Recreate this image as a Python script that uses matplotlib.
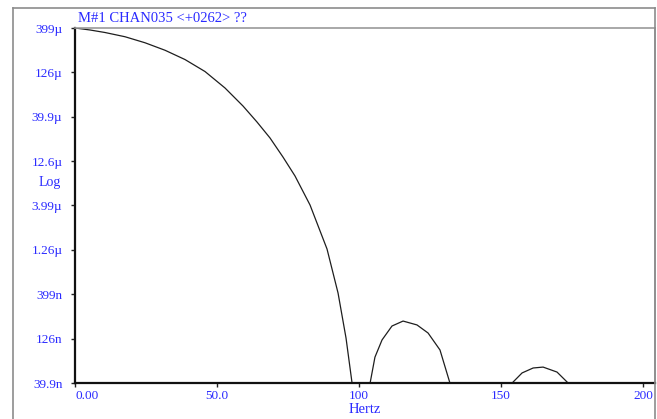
import numpy as np
import matplotlib
matplotlib.use("Agg")
import matplotlib.pyplot as plt
from matplotlib.lines import Line2D

# spectrum (Hz, amplitude)
main_freq = [0.0, 5.28, 10.56, 17.61, 24.65, 31.69, 38.73, 45.77, 52.82, 59.15, 64.08,
             68.66, 73.24, 77.46, 82.75, 88.73, 92.61, 95.42, 97.54]
main_amp = [399e-6, 379e-6, 355e-6, 318e-6, 272e-6, 224e-6, 176e-6, 129e-6, 84.1e-6,
            52.7e-6, 34.8e-6, 23.0e-6, 14.0e-6, 8.58e-6, 4.04e-6, 1.29e-6, 412e-9,
            128e-9, 39.9e-9]

lobe2_freq = [103.9, 105.6, 108.1, 111.6, 115.5, 120.4, 124.3, 128.5, 132.0]
lobe2_amp = [39.9e-9, 78e-9, 122e-9, 175e-9, 199e-9, 180e-9, 146e-9, 94e-9, 39.9e-9]

lobe3_freq = [153.9, 157.4, 161.3, 164.8, 169.7, 173.6, 204.2]
lobe3_amp = [39.9e-9, 51.8e-9, 58.9e-9, 60.3e-9, 53e-9, 39.9e-9, 39.9e-9]

ytick_vals = [39.9e-9, 126e-9, 399e-9, 1.26e-6, 3.99e-6, 12.6e-6, 39.9e-6, 126e-6, 399e-6]
ytick_labels = ["39.9n", "126n", "399n", "1.26\u00b5", "3.99\u00b5", "12.6\u00b5", "39.9\u00b5", "126\u00b5", "399\u00b5"]
xtick_vals = [0, 50, 100, 150, 200]
xtick_labels = ["0.00", "50.0", "100", "150", "200"]

W, H = 657, 419
blue = "#2a2aff"
font = "Liberation Serif"

fig = plt.figure(figsize=(W / 100, H / 100), dpi=100)
ax = fig.add_axes([75 / W, 1 - 383 / H, (655 - 75) / W, (383 - 28) / H])

freq = main_freq + lobe2_freq + lobe3_freq
amp = main_amp + lobe2_amp + lobe3_amp
ax.plot(freq, amp, color="#1e1e1e", lw=0.9)

ax.set_yscale("log")
ax.set_ylim(39.9e-9, 399e-6)
ax.set_xlim(0, 204.2)
ax.minorticks_off()
ax.set_yticks(ytick_vals)
ax.set_yticklabels(ytick_labels, fontfamily=font, fontsize=9.5, color=blue)
ax.set_xticks(xtick_vals)
ax.set_xticklabels(xtick_labels, fontfamily=font, fontsize=9.5, color=blue)
ax.get_xticklabels()[0].set_horizontalalignment("left")
ax.tick_params(axis="both", length=3, width=1, color="#222222")
ax.tick_params(axis="y", pad=6)
ax.tick_params(axis="x", pad=2)

for s in ["left", "bottom"]:
    ax.spines[s].set_color("#111111")
    ax.spines[s].set_linewidth(1.6)
for s in ["top", "right"]:
    ax.spines[s].set_color("#999999")
    ax.spines[s].set_linewidth(1.2)

ax.set_xlabel("Hertz", fontfamily=font, fontsize=10.5, color=blue, labelpad=1)
fig.text(50 / W, 1 - 182 / H, "Log", fontfamily=font, fontsize=10, color=blue,
         ha="center", va="center")
fig.text(78 / W, 1 - 18 / H, "M#1 CHAN035 <+0262> ??", fontfamily=font, fontsize=10.5,
         color=blue, ha="left", va="center")

# outer window frame
fig.add_artist(Line2D([13 / W, 655 / W], [1 - 8 / H, 1 - 8 / H], transform=fig.transFigure,
                      color="#8c8c8c", lw=1.2))
fig.add_artist(Line2D([13 / W, 13 / W], [0, 1 - 8 / H], transform=fig.transFigure,
                      color="#8c8c8c", lw=1.2))
fig.add_artist(Line2D([655 / W, 655 / W], [0, 1 - 8 / H], transform=fig.transFigure,
                      color="#8c8c8c", lw=1.2))

fig.savefig("out.png", dpi=100)
